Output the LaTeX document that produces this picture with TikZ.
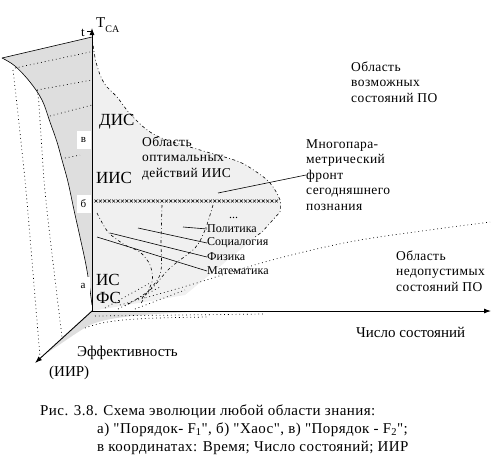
\documentclass[tikz,border=0pt]{standalone}
\usepackage{fontspec}
\setmainfont{Liberation Serif}
\newfontfamily\capfont{Liberation Serif}[Ligatures=TeXOff,LetterSpace=3]
\newfontfamily\regfont{Liberation Serif}[LetterSpace=3]
\usetikzlibrary{arrows.meta}
\definecolor{greyA}{gray}{0.87}
\definecolor{greyB}{gray}{0.94}
\begin{document}
\begin{tikzpicture}[x=1pt,y=-1pt,
  thinline/.style={line width=0.6pt},
  axisline/.style={line width=0.9pt,-{Latex[length=7pt,width=5pt]}},
  dotline/.style={line width=0.7pt,dash pattern=on 0.8pt off 3pt},
  dashdotline/.style={line width=0.6pt,dash pattern=on 3pt off 2.5pt on 0.8pt off 2.5pt},
  lbl/.style={anchor=west,inner sep=0pt,font=\fontsize{12}{12}\selectfont},
  region/.style={anchor=west,inner sep=0pt,align=left,font=\regfont\fontsize{13.5}{15.5}\selectfont},
  big/.style={anchor=west,inner sep=0pt,font=\fontsize{17}{17}\selectfont},
  axlbl/.style={anchor=west,inner sep=0pt,font=\fontsize{15}{15}\selectfont},
  captext/.style={anchor=west,inner sep=0pt,font=\capfont\fontsize{15}{15}\selectfont},
  tagbox/.style={fill=white,minimum width=14pt,minimum height=18pt,inner sep=0pt,font=\fontsize{11}{11}\selectfont}
]
\useasboundingbox (0,0) rectangle (495,467);

% light region of optimal actions
\fill[greyB] plot[smooth,tension=0.6] coordinates {(92,37) (96,62) (104,83) (117,97) (133,117) (157,136) (200,150) (237,161) (255,171) (270,183) (280,200) (280,212)} -- (262,232) -- (185,295) -- (92,311) -- cycle;
\draw[dashdotline] plot[smooth,tension=0.6] coordinates {(92,37) (96,62) (104,83) (117,97) (133,117) (157,136) (200,150) (237,161) (255,171) (270,183) (280,200) (280,212)} -- (262,232) -- (255,237);

% left grey surface
\fill[greyA] (92,37) -- (2,58) -- plot[smooth,tension=0.6] coordinates {(2,58) (15,66) (30,82) (42,100) (50,122) (57,142) (62,160) (68,182) (74,210) (80,237) (86,265) (90,290) (92,305)} -- cycle;
\draw[thinline] plot[smooth,tension=0.6] coordinates {(2,58) (15,66) (30,82) (42,100) (50,122) (57,142) (62,160) (68,182) (74,210) (80,237) (86,265) (90,290) (92,305)};
\draw[thinline] (2,58) -- (92,37);

% bottom wedge
\fill[greyA] (92,311) -- (210,311) .. controls (150,314) and (110,316) .. (90,325) .. controls (75,333) and (60,345) .. (45,354) -- cycle;
\draw[dotline] (95,316) -- (265,314);
\draw[dotline] (85,328) .. controls (110,318) and (150,318) .. (207,317);

% perspective dotted lines
\draw[dotline] (15,68) -- (90,52);
\draw[dotline] (37,90) -- (92,80);
\draw[dotline] (50,116) -- (92,105);
\draw[dotline] (65,158) -- (80,155);
\draw[dotline] plot[smooth] coordinates {(13,70) (17,105) (25,180) (30,237) (40,357)};
\draw[dotline] plot[smooth] coordinates {(37,90) (39,105) (44,180) (50,237) (62,337)};

% lower boundary dotted line
\draw[dotline] plot[smooth] coordinates {(120,305) (190,285) (272,260) (360,240) (490,222)};

% fan of dash-dot curves
\draw[dashdotline] plot[smooth] coordinates {(97,213) (108,232) (125,245) (140,252) (150,265) (152,282) (140,305)};
\draw[dashdotline] plot[smooth] coordinates {(162,205) (161,240) (160,275) (140,300)};
\draw[dashdotline] plot[smooth] coordinates {(213,205) (205,230) (195,248) (170,268) (150,290) (125,306)};
\draw[dotline] (105,308) -- (150,283);
\draw[dotline] (118,309) -- (160,287);
\draw[dotline] (135,309) -- (185,290);

% cross row (Chaos)
\foreach \i in {0,...,41} {
  \draw[line width=0.5pt] ({94.5+\i*4.4},199.5) -- ++(3,3) ++(-3,0) -- ++(3,-3);
}

% axes
\coordinate (O) at (92,311);
\coordinate (Ttop) at (92,28);
\coordinate (Xend) at (491,311);
\coordinate (Zend) at (35,363);
\draw[axisline] (O) -- (Ttop);
\draw[axisline] (O) -- (Xend);
\draw[axisline] (O) -- (Zend);
\draw[thinline] (87,31) -- (91,31);

% tags
\node[tagbox] (tv) at (83.5,140) {в};
\node[tagbox] (tb) at (83.5,204) {б};
\node[tagbox] (ta) at (83,286) {а};

% axis labels
\node[anchor=west,inner sep=0pt,font=\fontsize{15}{15}\selectfont] (tca) at (96,25) {T\raisebox{-5pt}{\fontsize{10}{10}\selectfont CA}};
\node[anchor=west,inner sep=0pt,font=\fontsize{13}{13}\selectfont] (tt) at (81,33) {t};
\node[axlbl] (xl) at (356,332) {Число состояний};
\node[axlbl] (zl) at (77,353) {Эффективность};
\node[axlbl] (zl2) at (49,373) {(ИИР)};

% stage labels
\node[big] (dis) at (99,122) {ДИС};
\node[big] (iis) at (96,178) {ИИС};
\node[big] (is) at (96,280) {ИС};
\node[big] (fs) at (96,298) {ФС};

% region labels
\node[region] (opt) at (142,158) {Область\\оптимальных\\действий ИИС};
\node[region] (poss) at (351,82) {Область\\возможных\\состояний ПО};
\node[region] (inadm) at (396,271) {Область\\недопустимых\\состояний ПО};
\node[region] (front) at (306,175) {Многопара-\\метрический\\фронт\\сегодняшнего\\познания};
\coordinate (frA) at (218,193);
\draw[thinline] (frA) -- (front.west);

% sciences
\node[lbl] (dots) at (229,218) {...};
\node[lbl] (pol) at (207,229) {Политика};
\node[lbl] (soc) at (207,243) {Социалогия};
\node[lbl] (phy) at (207,257) {Физика};
\node[lbl] (mat) at (207,271) {Математика};
\coordinate (polA) at (183,227);
\coordinate (socA) at (138,228);
\coordinate (phyA) at (110,233);
\coordinate (matA) at (97,237);
\draw[thinline] (polA) -- (pol.west);
\draw[thinline] (socA) -- (soc.west);
\draw[thinline] (phyA) -- (phy.west);
\draw[thinline] (matA) -- (mat.west);

% caption
\node[captext] (c1) at (40,412) {Рис. 3.8. Схема эволюции любой области знания:};
\node[captext] (c2) at (97,430) {а) "Порядок- F\textsubscript{1}", б) "Хаос", в) "Порядок - F\textsubscript{2}";};
\node[captext] (c3) at (97,448) {в координатах: Время; Число состояний; ИИР};
\end{tikzpicture}
\end{document}
